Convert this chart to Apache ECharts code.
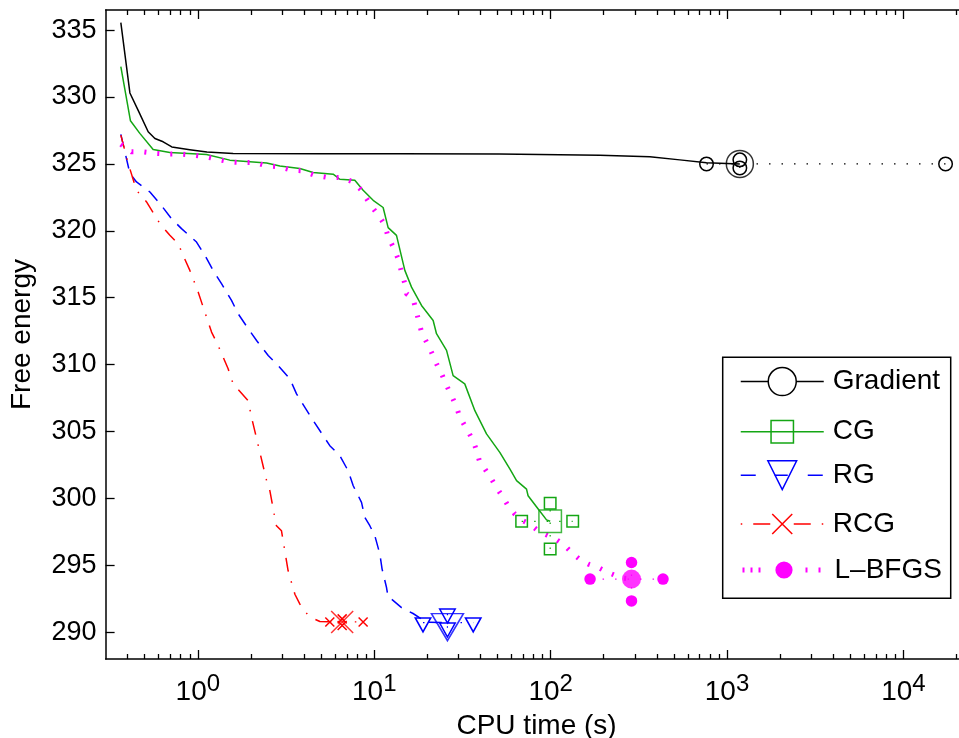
<!DOCTYPE html>
<html>
<head>
<meta charset="utf-8">
<title>Free energy vs CPU time</title>
<script src="https://cdn.jsdelivr.net/npm/echarts@6/dist/echarts.min.js"></script>
<style>
  html, body { margin: 0; padding: 0; background: #ffffff; }
  #chart { width: 959px; height: 738px; }
</style>
</head>
<body>
<div id="chart"></div>
<script>
// Convergence traces: CPU time (s) against free energy for five optimisers.
const gradientT = [0.366, 0.412, 0.459, 0.523, 0.571, 0.636, 0.712, 0.90, 1.125, 1.585, 5, 14, 51, 190, 365, 540, 765, 1182];
const gradientE = [335.55, 330.3, 329.0, 327.4, 326.9, 326.65, 326.27, 326.06, 325.88, 325.78, 325.76, 325.75, 325.73, 325.65, 325.54, 325.3, 325.08, 325.0];

const cgT = [0.366, 0.415, 0.469, 0.558, 0.694, 1.12, 1.518, 2.453, 2.917, 3.786, 4.504, 5.85, 6.38, 7.76, 8.65, 9.86, 11.23, 11.99, 13.37, 14.91, 16.27, 18.54, 21.58, 22.54, 25.7, 28.0, 32.6, 37.2, 43.3, 51.5, 58.7, 64.1, 73.0, 74.5, 85.0, 94.8, 99.4];
const cgE = [332.26, 328.22, 327.28, 326.08, 325.85, 325.70, 325.28, 325.07, 324.85, 324.66, 324.36, 324.23, 323.85, 323.78, 323.03, 322.28, 321.74, 320.24, 319.66, 317.04, 315.79, 314.42, 313.30, 312.31, 311.06, 309.18, 308.56, 306.56, 304.82, 303.44, 302.20, 301.33, 300.70, 300.20, 299.21, 298.4, 298.29];

const rgT = [0.366, 0.412, 0.449, 0.535, 0.609, 0.709, 0.808, 0.983, 1.096, 1.221, 1.362, 1.552, 1.693, 1.93, 2.153, 2.505, 2.85, 3.323, 3.627, 4.044, 4.504, 5.6, 6.38, 7.11, 7.6, 8.47, 8.84, 9.44, 10.08, 10.76, 11.08, 11.74, 11.99, 12.54, 14.28, 16.6, 19.8, 26.0];
const rgE = [327.2, 324.28, 323.65, 322.9, 322.04, 320.91, 320.16, 319.16, 318.17, 317.04, 316.05, 314.80, 313.80, 312.68, 311.80, 310.68, 309.93, 308.94, 307.81, 306.81, 305.82, 303.94, 303.2, 302.07, 300.95, 299.70, 298.58, 297.96, 297.21, 295.84, 294.72, 293.34, 292.59, 292.47, 291.84, 291.4, 290.75, 290.72];

const rcgT = [0.366, 0.403, 0.449, 0.512, 0.609, 0.694, 0.773, 0.825, 0.901, 1.004, 1.072, 1.196, 1.303, 1.485, 1.585, 1.928, 2.016, 2.453, 2.56, 2.73, 2.79, 2.98, 3.18, 3.25, 3.55, 3.79, 3.95, 4.31, 4.92, 6.58];
const rcgE = [327.15, 325.03, 323.03, 322.16, 320.54, 319.66, 319.04, 318.17, 317.04, 315.42, 314.30, 312.43, 311.43, 309.69, 308.56, 307.31, 306.06, 301.33, 300.58, 298.58, 297.96, 297.58, 295.34, 294.59, 292.84, 292.10, 291.72, 291.15, 290.8, 290.77];

const lbfgsT = [0.366, 0.421, 0.49, 0.583, 0.68, 0.81, 0.96, 1.12, 1.303, 1.518, 1.78, 2.1, 2.45, 2.92, 3.4, 3.95, 4.6, 5.48, 6.52, 7.6, 8.47, 9.04, 9.86, 10.76, 11.48, 11.99, 12.8, 13.65, 14.28, 14.91, 15.25, 16.6, 17.74, 18.54, 19.8, 21.1, 22.54, 24.1, 25.7, 27.4, 29.3, 30.6, 33.4, 36.4, 38.0, 39.7, 42.4, 46.2, 49.3, 53.8, 57.4, 62.7, 69.8, 76.2, 85.0, 94.8, 103.4, 117.7, 134.2, 149.7, 163.3, 186, 212, 236, 258, 287.4];
const lbfgsE = [326.47, 325.9, 325.9, 325.78, 325.73, 325.73, 325.65, 325.52, 325.33, 325.15, 325.1, 325.1, 324.85, 324.78, 324.53, 324.48, 324.15, 323.98, 323.98, 323.65, 323.03, 322.41, 321.66, 321.03, 320.41, 319.54, 318.79, 317.92, 316.92, 316.05, 315.3, 314.93, 313.43, 312.43, 311.68, 310.93, 310.06, 309.31, 308.44, 307.69, 306.81, 306.06, 305.19, 304.32, 303.57, 302.69, 302.2, 301.45, 300.82, 300.07, 299.45, 298.83, 298.33, 298.08, 297.58, 297.28, 297.08, 296.59, 295.84, 295.34, 295.09, 294.84, 294.46, 294.21, 294.04, 293.97];

// Final results over repeated runs: [low, typical, high] for time and for energy.
const gradientEndT = [765, 1182, 17330];
const gradientEndE = [324.7, 325.0, 325.3];
const cgEndT = [68.5, 99.4, 133.4];
const cgEndE = [296.22, 298.29, 299.64];
const rgEndT = [18.9, 26.0, 36.4];
const rgEndE = [290.34, 290.72, 291.39];
const rcgEndT = [5.6, 6.58, 8.65];
const rcgEndE = [290.5, 290.77, 291.0];
const lbfgsEndT = [167.3, 287.4, 433.5];
const lbfgsEndE = [292.34, 293.97, 295.21];

// Axis ranges and tick labels
const xMin = 0.3, xMax = 23100;
const yMin = 288, yMax = 336.5;
const xDecades = [0, 1, 2, 3, 4];
const yTicks = [290, 295, 300, 305, 310, 315, 320, 325, 330, 335];

const FONT = "'Liberation Sans', Arial, Helvetica, sans-serif";
const lg = Math.log10;
const xLo = lg(xMin), xHi = lg(xMax);

const minorTicks = [];
for (let n = -1; n <= 4; n++) {
  for (let k = 2; k <= 9; k++) {
    const v = lg(k) + n;
    if (v > xLo + 1e-6 && v < xHi) minorTicks.push(v);
  }
}

const TRI_DOWN = 'path://M0,0L20,0L10,17Z';
const CROSS = 'path://M0,0L10,10M0,10L10,0';

const methods = [
  { name: 'Gradient', T: gradientT, E: gradientE, endT: gradientEndT, endE: gradientEndE,
    color: '#000000', symbol: 'circle', big: 27, small: 13.5, hollow: true, offset: [0, 0],
    line: { width: 1.5, type: 'solid' },
    legendIcon: 35, legendItem: { color: '#ffffff', borderColor: '#000000', borderWidth: 1.5 },
    legendLine: { color: '#000000', width: 1.5, type: 'solid' } },
  { name: 'CG', T: cgT, E: cgE, endT: cgEndT, endE: cgEndE,
    color: '#14a614', symbol: 'rect', big: 22.5, small: 11.5, hollow: true, offset: [0, 0],
    line: { width: 1.5, type: 'solid' },
    legendIcon: 28, legendItem: { color: 'transparent', borderColor: '#14a614', borderWidth: 1.5 },
    legendLine: { color: '#14a614', width: 1.5, type: 'solid' } },
  { name: 'RG', T: rgT, E: rgE, endT: rgEndT, endE: rgEndE,
    color: '#0000ff', symbol: TRI_DOWN, big: [32, 27], small: [15.5, 14], hollow: true, offset: [0, '16.7%'],
    line: { width: 1.5, type: [13, 9] },
    legendIcon: 36, legendItem: { color: 'transparent', borderColor: '#0000ff', borderWidth: 1.5 },
    legendLine: { color: '#0000ff', width: 1.5, type: [15, 19, 13, 20] } },
  { name: 'RCG', T: rcgT, E: rcgE, endT: rcgEndT, endE: rcgEndE,
    color: '#ff0000', symbol: CROSS, big: 22, small: 9, hollow: true, offset: [0, 0],
    line: { width: 1.5, type: [14, 10, 1.5, 10] },
    legendIcon: 25, legendItem: { color: 'transparent', borderColor: '#ff0000', borderWidth: 1.5 },
    legendLine: { color: '#ff0000', width: 1.5, type: [1.5, 11, 17, 11] } },
  { name: 'L\u2013BFGS', T: lbfgsT, E: lbfgsE, endT: lbfgsEndT, endE: lbfgsEndE,
    color: '#ff00ff', symbol: 'circle', big: 19, small: 11.5, hollow: false, offset: [0, 0],
    line: { width: 5, type: [2, 11] },
    legendIcon: 21.5, legendItem: { color: '#ff00ff', borderColor: '#ff00ff', borderWidth: 0 },
    legendLine: { color: '#ff00ff', width: 5, type: [2, 6, 2, 6, 2, 45, 2, 11] } }
];

const series = [];
methods.forEach(m => {
  const markStyle = m.hollow
    ? { color: 'transparent', borderColor: m.color, borderWidth: 1.5 }
    : { color: m.color, borderWidth: 0 };
  const common = { name: m.name, silent: true, animation: false, emphasis: { disabled: true } };
  // convergence trace
  series.push(Object.assign({}, common, {
    type: 'line',
    data: m.T.map((t, i) => [lg(t), m.E[i]]),
    showSymbol: false, symbol: m.symbol, symbolSize: m.big,
    lineStyle: { color: m.color, width: m.line.width, type: m.line.type, cap: 'butt', join: 'round' },
    itemStyle: markStyle, z: 2
  }));
  const spread = { symbol: m.symbol, symbolSize: m.small, symbolOffset: m.offset, showSymbol: true,
    lineStyle: { color: m.color, width: 1.2, type: [1.5, 11] }, itemStyle: markStyle, z: 3 };
  // spread in time
  series.push(Object.assign({}, common, spread, {
    type: 'line',
    data: [[lg(m.endT[0]), m.endE[1]], [lg(m.endT[2]), m.endE[1]]]
  }));
  // spread in energy
  series.push(Object.assign({}, common, spread, {
    type: 'line',
    data: [[lg(m.endT[1]), m.endE[0]], [lg(m.endT[1]), m.endE[2]]]
  }));
  // typical final result
  series.push(Object.assign({}, common, {
    type: 'scatter',
    data: [[lg(m.endT[1]), m.endE[1]]],
    symbol: m.symbol, symbolSize: m.big, symbolOffset: m.offset,
    itemStyle: markStyle, z: 4
  }));
});

// legend rows (one component per entry so each marker keeps its own size)
const legendRowY = [384.3, 431.7, 478, 524, 570];
const legends = methods.map((m, i) => {
  const boxH = Math.max(m.legendIcon, 28);
  return {
    data: [{ name: m.name, itemStyle: m.legendItem, lineStyle: Object.assign({ cap: 'butt' }, m.legendLine) }],
    left: 740, top: legendRowY[i] - boxH / 2,
    orient: 'horizontal', padding: 0,
    itemWidth: 83, itemHeight: m.legendIcon,
    selectedMode: false,
    textStyle: { fontSize: 28, color: '#000', fontFamily: FONT, padding: [0, 0, 0, 4] }
  };
});

const axisLine = { show: true, onZero: false, lineStyle: { color: '#000', width: 1.5 } };
const tickLine = { color: '#000', width: 1.3 };

function xAxisDef(pos, major, withLabels) {
  return {
    type: 'value', position: pos, min: xLo, max: xHi, gridIndex: 0,
    axisLine: major ? axisLine : { show: false, onZero: false },
    splitLine: { show: false },
    axisTick: { show: true, inside: true, length: major ? 9 : 5,
      customValues: major ? xDecades : minorTicks, lineStyle: tickLine },
    axisLabel: withLabels ? {
      show: true, customValues: xDecades, margin: 13.5, color: '#000', fontFamily: FONT,
      formatter: v => '{b|10}{s|' + Math.round(v) + '}',
      rich: {
        b: { fontSize: 28, lineHeight: 40, fontFamily: FONT, color: '#000' },
        s: { fontSize: 24, lineHeight: 20, verticalAlign: 'top', fontFamily: FONT, color: '#000' }
      }
    } : { show: false },
    name: withLabels ? 'CPU time (s)' : '',
    nameLocation: 'middle', nameGap: 53,
    nameTextStyle: { fontSize: 28, color: '#000', fontFamily: FONT }
  };
}

const option = {
  backgroundColor: '#ffffff',
  animation: false,
  grid: {
    left: 105.6, top: 10, width: (xHi - xLo) * 176.4, height: 649,
    containLabel: false, outerBoundsMode: 'none'
  },
  xAxis: [
    xAxisDef('bottom', true, true),
    xAxisDef('bottom', false, false),
    xAxisDef('top', true, false),
    xAxisDef('top', false, false)
  ],
  yAxis: [{
    type: 'value', position: 'left', min: yMin, max: yMax,
    axisLine: axisLine,
    splitLine: { show: false },
    axisTick: { show: true, inside: true, length: 9, customValues: yTicks, lineStyle: tickLine },
    axisLabel: { show: true, customValues: yTicks, margin: 9, fontSize: 27, color: '#000', fontFamily: FONT },
    name: 'Free energy', nameLocation: 'middle', nameGap: 69, nameRotate: 90,
    nameTextStyle: { fontSize: 28, color: '#000', fontFamily: FONT }
  }],
  legend: legends,
  graphic: [{
    type: 'rect', z: 3, silent: true,
    shape: { x: 722.7, y: 357.3, width: 228, height: 241 },
    style: { fill: '#ffffff', stroke: '#000000', lineWidth: 1.5 }
  }],
  series: series
};

const chart = echarts.init(document.getElementById('chart'), null, { renderer: 'canvas' });
chart.setOption(option);
</script>
</body>
</html>
